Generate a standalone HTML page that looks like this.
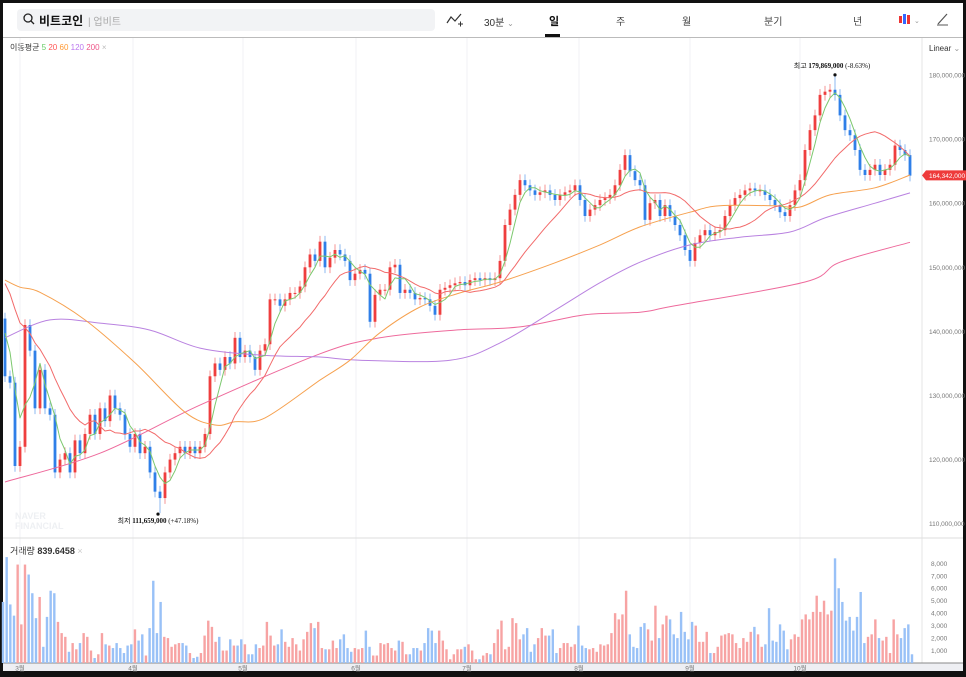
<!DOCTYPE html>
<html><head><meta charset="utf-8">
<style>
html,body{margin:0;padding:0;background:#111;}
body{width:966px;height:677px;position:relative;overflow:hidden;font-family:"Liberation Sans","Noto Sans CJK KR",sans-serif;}
#frame{position:absolute;left:3px;top:3px;width:960px;height:668px;background:#fff;overflow:hidden;}
.t{position:absolute;white-space:nowrap;}
</style></head>
<body>
<div id="frame">
  <div class="t" style="left:14px;top:6px;width:418px;height:22px;background:#f2f3f5;border-radius:4px;"></div>
  <svg class="t" style="left:20px;top:10px" width="12" height="12"><circle cx="5" cy="5" r="4" fill="none" stroke="#222" stroke-width="1.3"/><line x1="8" y1="8" x2="11" y2="11" stroke="#222" stroke-width="1.3"/></svg>
  <div class="t" style="left:36px;top:9px;font-size:12px;font-weight:bold;color:#111;">비트코인</div>
  <div class="t" style="left:85px;top:10px;font-size:10px;color:#aaa;">| 업비트</div>
  <svg class="t" style="left:443px;top:9px" width="18" height="16"><polyline points="1,11 5,5 9,9 15,2" fill="none" stroke="#333" stroke-width="1.2"/><line x1="12" y1="12" x2="17" y2="12" stroke="#333"/><line x1="14.5" y1="9.5" x2="14.5" y2="14.5" stroke="#333"/></svg>
  <div class="t" style="left:481px;top:11px;font-size:10px;color:#333;">30분 <span style="color:#999;font-size:8px">⌄</span></div>
  <div class="t" style="left:546px;top:10px;font-size:11px;color:#111;font-weight:bold;">일</div>
  <div class="t" style="left:542px;top:31px;width:15px;height:3px;background:#111;"></div>
  <div class="t" style="left:613px;top:10px;font-size:10px;color:#444;">주</div>
  <div class="t" style="left:679px;top:10px;font-size:10px;color:#444;">월</div>
  <div class="t" style="left:761px;top:10px;font-size:10px;color:#444;">분기</div>
  <div class="t" style="left:850px;top:10px;font-size:10px;color:#444;">년</div>
  <svg class="t" style="left:894px;top:9px" width="26" height="16"><rect x="2" y="4" width="3" height="7" fill="#e33"/><rect x="6" y="2" width="3" height="10" fill="#36f"/><rect x="10" y="3" width="3" height="9" fill="#e33"/><text x="17" y="11" font-size="7" fill="#999">⌄</text></svg>
  <svg class="t" style="left:933px;top:9px" width="14" height="14"><line x1="2" y1="12" x2="11" y2="2" stroke="#555" stroke-width="1.2"/><line x1="1" y1="13" x2="12" y2="13" stroke="#555"/></svg>
  <div class="t" style="left:0;top:34px;width:960px;height:1px;background:#bbb;"></div>
  <div class="t" style="left:7px;top:39px;font-size:8px;color:#333;">이동평균 <span style="color:#6c6">5</span> <span style="color:#f55">20</span> <span style="color:#f93">60</span> <span style="color:#b7e">120</span> <span style="color:#e58">200</span> <span style="color:#bbb">×</span></div>
  <div class="t" style="left:926px;top:41px;font-size:8px;color:#333;">Linear <span style="color:#999">⌄</span></div>
  <div class="t" style="left:12px;top:508px;font-size:9px;font-weight:bold;color:#eef0f3;line-height:10px;">NAVER<br>FINANCIAL</div>
  <div class="t" style="left:7px;top:541px;font-size:9px;color:#333;">거래량 <b>839.6458</b> <span style="color:#ccc">×</span></div>
</div>
<svg id="chart" width="966" height="677" style="position:absolute;left:0;top:0;"></svg>
<script>
const closes=[133,132,119,122,141,137,128,134,128,127,118,120,121,118,123,121,124,127,124,128,126,130,128,127,124,122,124,121,122,118,115,114,118,120,121,122,121,122,121,122,124,133,135,134,136,135,139,136,137,136,134,137,138,145,145,144,145,146,146,147,150,152,151,154,150,151.5,152.7,152,151,148,149,149.6,149,141.5,145.7,146.5,146.5,150,150.4,146,146.5,146,145,145.2,145,144,142.6,146.5,146.8,147.2,147.5,147.7,147.2,148,148.3,148,148.3,148,148.3,151,156.6,159,161.3,163.6,162.8,162,161.3,161.7,162,161.3,160.5,161.3,161.7,162,162.8,160.5,158,159,159.7,160.5,160.8,161.3,162.8,165.2,167.5,165,163.6,162.8,157.4,160,160.5,158,159.7,158,156.6,155,152.7,151,153.8,155,155.8,155,155.5,155.8,158,159.7,160.8,161.3,162,162.3,162,162,161.3,160.5,159.7,158.6,158,159.7,162,163.6,168.3,171.4,173.7,176.9,177.4,177.7,176.9,173.7,171.4,170.6,168.3,165.2,164.4,165.2,166,164.4,165.2,166,169,168.3,167.5,164.3];
const priorCloses=[156,155,154,152,151,150,149,148,147,146,145,144,142,140];
const firstOpen=142;
const highestPrice=179.869, highestIdx=166;
const lowestPrice=111.659, lowestIdx=31;
const ma60Idx=[0,3,7,16,26,36,42,46,52,63,69,75,83,91,99,110,119,127,137,143,154,159,165,174,181];
const ma60Val=[148.0,146.9,146.1,141.8,135.1,127.4,125.4,125.9,126.5,132.4,135.5,139.8,143.8,146.0,147.7,150.7,153.5,156.3,158.6,159.6,159.6,159.4,161.3,162.4,164.4];
const ma120Idx=[0,9,19,29,39,51,63,71,89,99,110,119,127,137,147,157,164,174,181];
const ma120Val=[139.0,141.8,141.3,140.2,137.4,136.3,136.0,135.5,135.5,138.2,143.3,147.6,150.8,153.5,154.7,155.5,157.7,160.0,161.6];
const ma200Idx=[0,19,39,63,75,90,103,116,127,134,160,167,181];
const ma200Val=[116.5,121.0,128.5,136.5,139.0,140.2,140.7,142.6,143.0,144.0,147.7,150.8,153.9];
const volumes=[4.9,8.5,4.7,3.8,7.9,3.1,7.9,7.1,5.6,3.6,5.3,1.3,3.7,5.8,5.6,3.3,2.4,2.1,0.9,1.6,1.1,1.6,2.4,2.1,1.0,0.4,0.7,2.4,1.5,1.4,1.2,1.6,1.2,0.8,1.4,1.5,2.7,1.8,2.3,0.6,2.8,6.6,2.4,4.9,2.1,2.0,1.3,1.5,1.6,1.6,1.4,0.8,0.4,0.5,0.8,2.2,3.4,2.9,1.7,2.1,1.0,1.0,1.9,1.4,1.4,1.9,1.5,0.7,0.7,1.5,1.2,1.4,3.3,2.2,1.4,1.5,2.7,1.7,1.3,2.0,1.5,1.0,1.9,2.5,3.2,2.8,3.3,1.2,1.1,1.1,1.8,1.2,1.9,2.3,1.2,0.9,1.2,1.1,1.2,2.6,1.3,0.6,0.6,1.6,1.5,1.6,1.2,1.0,1.8,1.7,0.7,0.7,1.2,1.2,1.0,1.6,2.8,2.6,1.6,2.6,1.8,1.1,0.3,0.7,1.1,1.1,1.3,1.5,1.0,0.3,0.3,0.6,0.8,0.7,1.6,2.7,3.4,1.1,1.3,3.6,3.2,1.9,2.3,2.8,0.9,1.5,2.0,2.8,2.2,2.2,2.7,0.8,1.2,1.6,1.6,1.3,1.5,3.0,1.4,1.2,1.1,1.2,0.9,1.5,1.4,1.5,2.4,4.0,3.5,3.9,5.8,2.3,1.3,1.2,2.9,3.2,2.7,1.8,4.6,2.0,3.1,3.8,3.5,2.3,2.0,4.1,2.5,1.9,3.3,3.0,1.7,1.7,2.5,0.8,0.8,1.3,2.2,2.3,2.4,2.3,1.6,1.2,2.0,1.7,2.5,2.9,2.3,1.3,1.5,4.4,1.8,1.7,3.1,2.6,1.1,1.9,2.3,2.1,3.5,3.9,3.5,4.1,5.4,4.1,5.0,3.9,4.2,8.4,6.0,4.9,3.4,3.7,2.6,3.7,5.7,1.6,2.1,2.3,3.5,2.0,1.8,2.1,0.8,3.5,2.3,2.0,2.8,3.1,0.7];
const priceTicks=[180,170,160,150,140,130,120,110];
const volTicks=[8,7,6,5,4,3,2,1];
const monthLabels=["3월","4월","5월","6월","7월","8월","9월","10월"];
const monthIdx=[3,25.6,47.6,70.2,92.4,114.8,137,159];
const lastPrice=164.342;

const svg=document.getElementById('chart');
const NS='http://www.w3.org/2000/svg';
const X0=5,X1=910;
const n=closes.length;
function x(i){return X0+i*(X1-X0)/(n-1);}
function y(p){return 75+(180-p)*6.41;}
function yv(v){return 663-v*12.46;}
function mk(tag,attrs,parent){const e=document.createElementNS(NS,tag);for(const k in attrs)e.setAttribute(k,attrs[k]);(parent||svg).appendChild(e);return e;}

monthIdx.forEach((m,i)=>{
  const g=mk('line',{x1:x(m),x2:x(m),y1:38,y2:660,stroke:'#f1f2f4','stroke-width':1});
  
  
});
let l=mk('line',{x1:922,x2:922,y1:38,y2:663,stroke:'#e5e5e5'});


l=mk('line',{x1:3,x2:963,y1:538,y2:538,stroke:'#ddd'});


const strip=mk('rect',{x:3,y:663,width:960,height:8,fill:'#eeeff3'});


mk('line',{x1:3,x2:963,y1:663,y2:663,stroke:'#888'});

priceTicks.forEach(p=>{
  const t=mk('text',{x:929,y:y(p)+2.5,'font-size':6.5,fill:'#777','font-family':'Liberation Sans'});
  t.textContent=(p*1000000).toLocaleString('en-US');
  
  
});
volTicks.forEach(v=>{
  const t=mk('text',{x:931,y:yv(v)+2.5,'font-size':6.5,fill:'#777','font-family':'Liberation Sans'});
  t.textContent=(v*1000).toLocaleString('en-US');
  
  
});
monthLabels.forEach((m,i)=>{
  const t=mk('text',{x:x(monthIdx[i]),y:670.5,'font-size':6.5,fill:'#777','text-anchor':'middle','font-family':'Liberation Sans, Noto Sans CJK KR'});
  t.textContent=m;
  
  
});

const vn=volumes.length;
volumes.forEach((v,j)=>{
  const vx=3+j*(912-3)/(vn-1);
  const ci=Math.max(0,Math.min(n-1,Math.round((vx-X0)/((X1-X0)/(n-1)))));
  const o=ci===0?firstOpen:closes[ci-1];
  const up=closes[ci]>=o;
  const r=mk('rect',{x:vx-1.2,y:yv(v),width:2.4,height:663-yv(v),fill:up?'#f7a3a3':'#99c1f7'});
  
  
});

closes.forEach((c,i)=>{
  const o=i===0?firstOpen:closes[i-1];
  const up=c>=o;
  const col=up?'#ef3e3e':'#2f7fe8';
  let hi=Math.max(o,c)+0.9, lo=Math.min(o,c)-0.9;
  if(i===highestIdx)hi=highestPrice;
  if(i===lowestIdx)lo=lowestPrice;
  const w=mk('line',{x1:x(i),x2:x(i),y1:y(hi),y2:y(lo),stroke:col,'stroke-width':1,'stroke-opacity':0.55});
  
  
  const top=y(Math.max(o,c)),bot=y(Math.min(o,c));
  const b=mk('rect',{x:x(i)-1.4,y:top,width:2.8,height:Math.max(1,bot-top),fill:col});
  
  
});

const all=priorCloses.concat(closes);
const P=priorCloses.length;
function sma(win){const r=[];for(let i=0;i<n;i++){let s=0,k=0;const gi=i+P;for(let j=Math.max(0,gi-win+1);j<=gi;j++){s+=all[j];k++;}r.push(s/k);}return r;}
function line(pts,col,name){
  const p=mk('polyline',{points:pts.map(q=>q[0].toFixed(1)+','+q[1].toFixed(1)).join(' '),fill:'none',stroke:col,'stroke-width':1,'stroke-linejoin':'round'});
  
  
}
function smooth(pts,col,name){
  let d='M'+pts[0][0].toFixed(1)+' '+pts[0][1].toFixed(1);
  for(let i=0;i<pts.length-1;i++){
    const p0=pts[Math.max(0,i-1)],p1=pts[i],p2=pts[i+1],p3=pts[Math.min(pts.length-1,i+2)];
    const c1=[p1[0]+(p2[0]-p0[0])/6,p1[1]+(p2[1]-p0[1])/6];
    const c2=[p2[0]-(p3[0]-p1[0])/6,p2[1]-(p3[1]-p1[1])/6];
    d+=` C${c1[0].toFixed(1)} ${c1[1].toFixed(1)} ${c2[0].toFixed(1)} ${c2[1].toFixed(1)} ${p2[0].toFixed(1)} ${p2[1].toFixed(1)}`;
  }
  const p=mk('path',{d:d,fill:'none',stroke:col,'stroke-width':1});
  
  
}
smooth(ma200Idx.map((k,i)=>[x(k),y(ma200Val[i])]),'#ee6a9c','ma200-line');
smooth(ma120Idx.map((k,i)=>[x(k),y(ma120Val[i])]),'#b982e0','ma120-line');
smooth(ma60Idx.map((k,i)=>[x(k),y(ma60Val[i])]),'#f6a14f','ma60-line');
const m20=sma(15),m5=sma(4);
line(m20.map((v,i)=>[x(i),y(v)]),'#f26b6b','ma20-line');
line(m5.map((v,i)=>[x(i),y(v)]),'#7cc86e','ma5-line');

let d=mk('circle',{cx:x(highestIdx),cy:y(highestPrice)-1,r:1.6,fill:'#111'});


let t=mk('text',{x:x(highestIdx)-3,y:y(highestPrice)-8,'font-size':7,fill:'#111','text-anchor':'middle','font-family':'Liberation Serif, Noto Sans CJK KR'});
t.innerHTML='최고  <tspan font-weight="bold">179,869,000</tspan> (-8.63%)';


d=mk('circle',{cx:x(lowestIdx)-2,cy:y(lowestPrice)+1,r:1.6,fill:'#111'});


t=mk('text',{x:x(lowestIdx)-2,y:y(lowestPrice)+10,'font-size':7,fill:'#111','text-anchor':'middle','font-family':'Liberation Serif, Noto Sans CJK KR'});
t.innerHTML='최저  <tspan font-weight="bold">111,659,000</tspan> (+47.18%)';



const ly=y(lastPrice);
const tag=mk('path',{d:`M922 ${ly} L926 ${ly-5} L966 ${ly-5} L966 ${ly+5} L926 ${ly+5} Z`,fill:'#ee3b3b'});


t=mk('text',{x:929,y:ly+2.5,'font-size':6.5,fill:'#fff','font-family':'Liberation Sans'});
t.textContent=(lastPrice*1000000).toLocaleString('en-US');


</script>
</body></html>
